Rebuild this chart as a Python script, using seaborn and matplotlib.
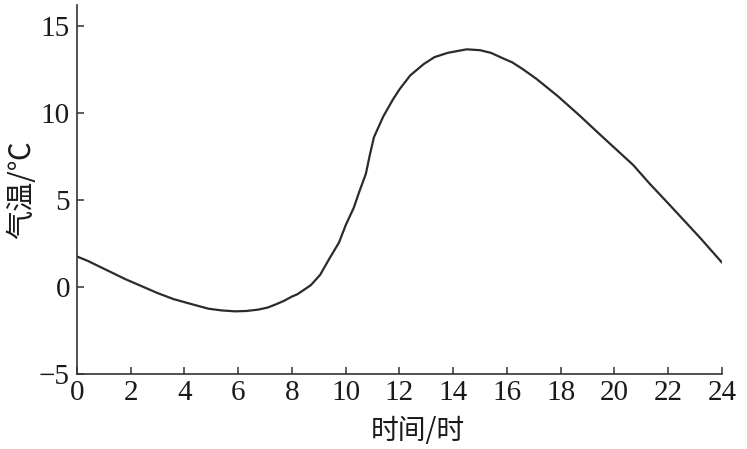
#!/usr/bin/env python3
"""Daily air temperature curve (气温 vs 时间), single black line, textbook style."""
import pandas as pd
import matplotlib
matplotlib.use("Agg")
import matplotlib.pyplot as plt
import seaborn as sns

# values
hours = [0, 0.4, 0.8, 1.2, 1.8, 2.4, 3.0, 3.6, 4.3, 4.9, 5.4, 5.9, 6.3, 6.75,
         7.1, 7.4, 7.7, 8.0, 8.2, 8.7, 9.05, 9.4, 9.75, 10.0, 10.3, 10.5,
         10.75, 10.9, 11.05, 11.4, 11.75, 12.0, 12.4, 12.9, 13.3, 13.8, 14.5,
         15.0, 15.4, 15.9, 16.2, 16.6, 17.1, 17.9, 18.7, 19.5, 20.1, 20.7,
         21.3, 22.0, 22.6, 23.2, 24.0]
temps = [1.75, 1.5, 1.2, 0.9, 0.45, 0.05, -0.35, -0.7, -1.0, -1.25, -1.35,
         -1.4, -1.38, -1.3, -1.18, -1.0, -0.8, -0.55, -0.42, 0.1, 0.7, 1.65,
         2.55, 3.55, 4.55, 5.45, 6.5, 7.6, 8.6, 9.8, 10.75, 11.35, 12.15, 12.8,
         13.2, 13.45, 13.65, 13.6, 13.45, 13.1, 12.9, 12.5, 11.95, 10.95, 9.85,
         8.7, 7.85, 7.0, 5.95, 4.8, 3.8, 2.8, 1.4]
x_ticks = list(range(0, 25, 2))
y_ticks = [-5, 0, 5, 10, 15]

df = pd.DataFrame({"hour": hours, "temp": temps})

sns.set_style("ticks")
plt.rcParams["font.family"] = ["Liberation Serif", "Noto Sans CJK SC", "DejaVu Sans"]
plt.rcParams["axes.unicode_minus"] = True
CJK = ["Noto Sans CJK SC", "DejaVu Sans"]

fig = plt.figure(figsize=(7.47, 4.49), dpi=100)
ax = fig.add_axes([0.103, 0.167, 0.8635, 0.822])

sns.lineplot(data=df, x="hour", y="temp", color="#2b2b2b", linewidth=1.6, ax=ax)

ax.set_xlim(0, 24)
ax.set_ylim(-5, 16.2)
ax.set_xticks(x_ticks)
ax.set_yticks(y_ticks)
ax.tick_params(axis="both", direction="in", length=5, width=1.1, color="#333333",
               labelcolor="#1a1a1a")
ax.tick_params(axis="x", labelsize=21, pad=4)
ax.tick_params(axis="y", labelsize=21, pad=5)

ax.set_xlabel("时间/时", family=CJK, fontsize=20, color="#1a1a1a")
ax.set_ylabel("气温/℃", family=CJK, fontsize=21, color="#1a1a1a")
ax.xaxis.set_label_coords(0.529, -0.115)
ax.yaxis.set_label_coords(-0.062, 0.5)

sns.despine(ax=ax)
for side in ("left", "bottom"):
    ax.spines[side].set_linewidth(1.2)
    ax.spines[side].set_color("#333333")

fig.savefig("out.png", dpi=100)
plt.close(fig)
